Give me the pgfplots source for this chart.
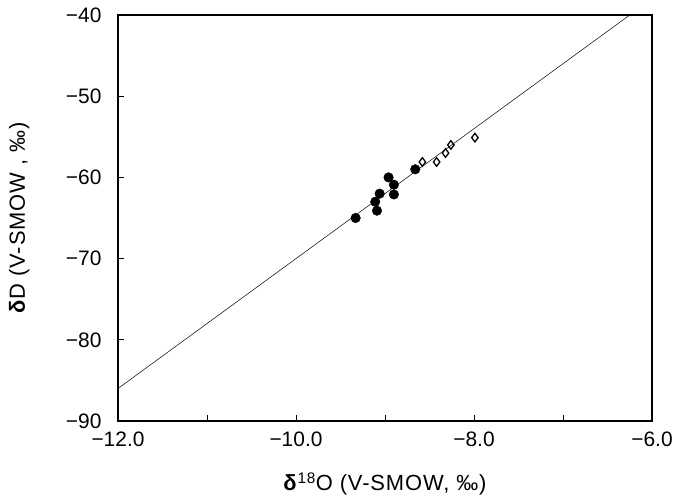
\documentclass[border=0pt]{standalone}
\usepackage{pgfplots}
\pgfplotsset{compat=1.18}
\usepackage{fontspec}
\setmainfont{Liberation Sans}
\begin{document}
\begin{tikzpicture}
\path[use as bounding box] (-118bp,-77bp) rectangle (555bp,421bp);
\begin{axis}[
    at={(0,0)}, anchor=south west,
    scale only axis,
    width=534bp, height=406bp,
    xmin=-12, xmax=-6,
    ymin=-90, ymax=-40,
    axis line style={line width=1.5pt},
    tick pos=left,
    tick align=inside,
    major tick length=6bp,
    tick style={line width=0.9pt, black},
    xtick={-12,-11,-10,-9,-8,-7,-6},
    xticklabels={−12.0,,−10.0,,−8.0,,−6.0},
    ytick={-90,-80,-70,-60,-50,-40},
    yticklabels={−90,−80,−70,−60,−50,−40},
    ticklabel style={font=\fontsize{21}{24}\selectfont},
    xticklabel style={yshift=-7bp},
    yticklabel style={xshift=-13bp},
    xlabel={\textbf{δ}\textsuperscript{18}O (V-SMOW, ‰)},
    ylabel={\textbf{δ}D (V-SMOW , ‰)},
    label style={font=\fontsize{22}{25}\selectfont\addfontfeature{LetterSpace=4}},
    xlabel style={at={(axis description cs:0.5,-0.155)}, anchor=center},
    ylabel style={at={(axis description cs:-0.185,0.5)}, anchor=center},
    clip=true,
]
% meteoric water line
\addplot[black, line width=0.5pt, mark=none] coordinates {(-12,-86) (-6,-38)};
% filled circles
\addplot[only marks, mark=*, mark size=4.8bp, black] coordinates {
    (-9.33,-65.0)
    (-9.09,-64.1)
    (-9.11,-63.0)
    (-9.06,-62.0)
    (-8.96,-60.0)
    (-8.90,-60.9)
    (-8.90,-62.1)
    (-8.66,-59.0)
};
% open diamonds
\addplot[only marks, mark=diamond, mark size=4.3bp, black, line width=1.3pt] coordinates {
    (-8.58,-58.1)
    (-8.42,-58.1)
    (-8.32,-57.0)
    (-8.26,-56.0)
    (-7.99,-55.1)
};
\end{axis}
\end{tikzpicture}
\end{document}
